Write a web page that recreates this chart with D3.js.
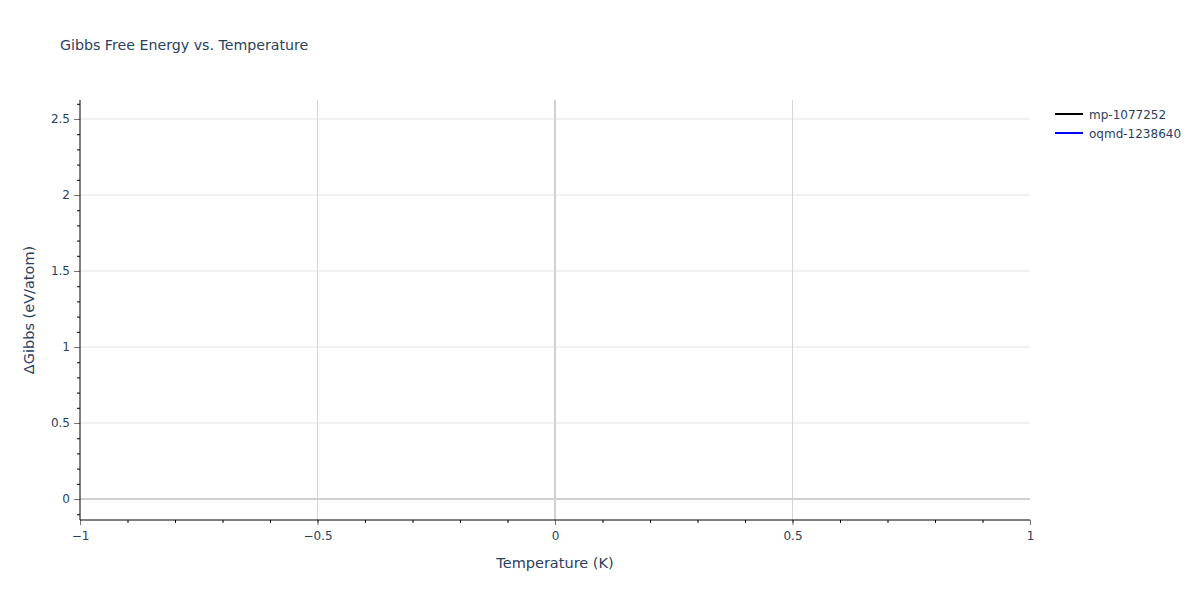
<!DOCTYPE html>
<head>
  <meta charset="utf-8">
  <script src="https://d3js.org/d3.v7.min.js"></script>
  <style>
    body {
      margin: 0;
      overflow: hidden;
      background: #fff;
    }
    text {
      font-family: "DejaVu Sans", verdana, arial, sans-serif;
      fill: #2a3f5f;
    }
  </style>
</head>
<body>
  <svg width="1200" height="600"></svg>
  <script>
    // series: both traces come out empty in the reference
    const seriesNames = ['mp-1077252', 'oqmd-1238640'];
    const seriesColors = ['#000000', '#0000ff'];
    const temperatures = [[], []];
    const gibbsValues = [[], []];

    const xTicks = [-1, -0.5, 0, 0.5, 1];
    const yTicks = [0, 0.5, 1, 1.5, 2, 2.5];
    const xDomain = [-1, 1];
    const yDomain = [-0.138, 2.625];

    const svg = d3.select('svg');
    const margin = { top: 100, right: 170, bottom: 80, left: 80 };
    const width = +svg.attr('width');
    const height = +svg.attr('height');
    const innerWidth = width - margin.left - margin.right;
    const innerHeight = height - margin.top - margin.bottom;

    const xScale = d3.scaleLinear().domain(xDomain).range([0, innerWidth]);
    const yScale = d3.scaleLinear().domain(yDomain).range([innerHeight, 0]);

    const fmt = d => d3.format('')(d).replace('-', '\u2212');

    const g = svg.append('g')
      .attr('transform', `translate(${margin.left},${margin.top})`);

    // grid
    g.append('g').selectAll('line').data(yTicks.filter(d => d !== 0))
      .enter().append('line')
        .attr('x1', 0).attr('x2', innerWidth)
        .attr('y1', d => yScale(d)).attr('y2', d => yScale(d))
        .attr('stroke', '#e2e2e2').attr('stroke-width', 1);
    g.append('g').selectAll('line').data(xTicks.filter(d => d !== 0 && d !== xDomain[0] && d !== xDomain[1]))
      .enter().append('line')
        .attr('x1', d => xScale(d)).attr('x2', d => xScale(d))
        .attr('y1', 0).attr('y2', innerHeight)
        .attr('stroke', '#d6d6d6').attr('stroke-width', 1);

    // zero lines
    g.append('line')
      .attr('x1', 0).attr('x2', innerWidth)
      .attr('y1', yScale(0)).attr('y2', yScale(0))
      .attr('stroke', '#d0d0d0').attr('stroke-width', 2);
    g.append('line')
      .attr('x1', xScale(0)).attr('x2', xScale(0))
      .attr('y1', 0).attr('y2', innerHeight)
      .attr('stroke', '#d0d0d0').attr('stroke-width', 2);

    // traces
    const line = d3.line()
      .x(d => xScale(d[0]))
      .y(d => yScale(d[1]));
    seriesNames.forEach((name, i) => {
      const pts = temperatures[i].map((t, j) => [t, gibbsValues[i][j]]);
      g.append('path')
        .datum(pts)
        .attr('fill', 'none')
        .attr('stroke', seriesColors[i])
        .attr('stroke-width', 2)
        .attr('d', line);
    });

    // axes: minor ticks every 0.1, major at labels
    const minorX = d3.range(-10, 11).map(d => d / 10);
    const minorY = d3.range(-1, 27).map(d => d / 10);

    const xMinor = g.append('g')
      .attr('transform', `translate(0,${innerHeight})`)
      .call(d3.axisBottom(xScale).tickValues(minorX).tickSize(3));
    xMinor.select('.domain').remove();
    xMinor.selectAll('.tick text').remove();
    xMinor.selectAll('.tick line').attr('stroke', '#000');

    const xAxisG = g.append('g')
      .attr('transform', `translate(0,${innerHeight})`)
      .call(d3.axisBottom(xScale).tickValues(xTicks).tickSize(5).tickPadding(6).tickFormat(fmt));
    xAxisG.select('.domain').remove();
    xAxisG.selectAll('.tick line').attr('stroke', '#777');
    xAxisG.selectAll('.tick text').attr('font-size', 12).style('fill', '#2a3f5f');

    const yMinor = g.append('g')
      .call(d3.axisLeft(yScale).tickValues(minorY).tickSize(3));
    yMinor.select('.domain').remove();
    yMinor.selectAll('.tick text').remove();
    yMinor.selectAll('.tick line').attr('stroke', '#000');

    const yAxisG = g.append('g')
      .call(d3.axisLeft(yScale).tickValues(yTicks).tickSize(6).tickPadding(4).tickFormat(fmt));
    yAxisG.select('.domain').remove();
    yAxisG.selectAll('.tick line').attr('stroke', '#777');
    yAxisG.selectAll('.tick text').attr('font-size', 12).style('fill', '#2a3f5f');

    // axis lines
    g.append('line')
      .attr('x1', 0).attr('x2', innerWidth)
      .attr('y1', innerHeight).attr('y2', innerHeight)
      .attr('stroke', '#000').attr('stroke-width', 1);
    g.append('line')
      .attr('x1', 0).attr('x2', 0)
      .attr('y1', 0).attr('y2', innerHeight)
      .attr('stroke', '#000').attr('stroke-width', 1);

    // titles
    svg.append('text')
      .attr('x', 60).attr('y', 50)
      .attr('font-size', 14.2)
      .text('Gibbs Free Energy vs. Temperature');

    svg.append('text')
      .attr('x', margin.left + innerWidth / 2).attr('y', 568)
      .attr('text-anchor', 'middle')
      .attr('font-size', 14.5)
      .text('Temperature (K)');

    svg.append('text')
      .attr('transform', `translate(34,${margin.top + innerHeight / 2}) rotate(-90)`)
      .attr('text-anchor', 'middle')
      .attr('font-size', 14.5)
      .text('\u0394Gibbs (eV/atom)');

    // legend
    const legend = svg.append('g').attr('transform', 'translate(1055,114)');
    seriesNames.forEach((name, i) => {
      const row = legend.append('g').attr('transform', `translate(0,${i * 19})`);
      row.append('line')
        .attr('x1', 0).attr('x2', 28)
        .attr('stroke', seriesColors[i]).attr('stroke-width', 2);
      row.append('text')
        .attr('x', 34).attr('y', 4.5)
        .attr('font-size', 12)
        .text(name);
    });
  </script>
</body>
